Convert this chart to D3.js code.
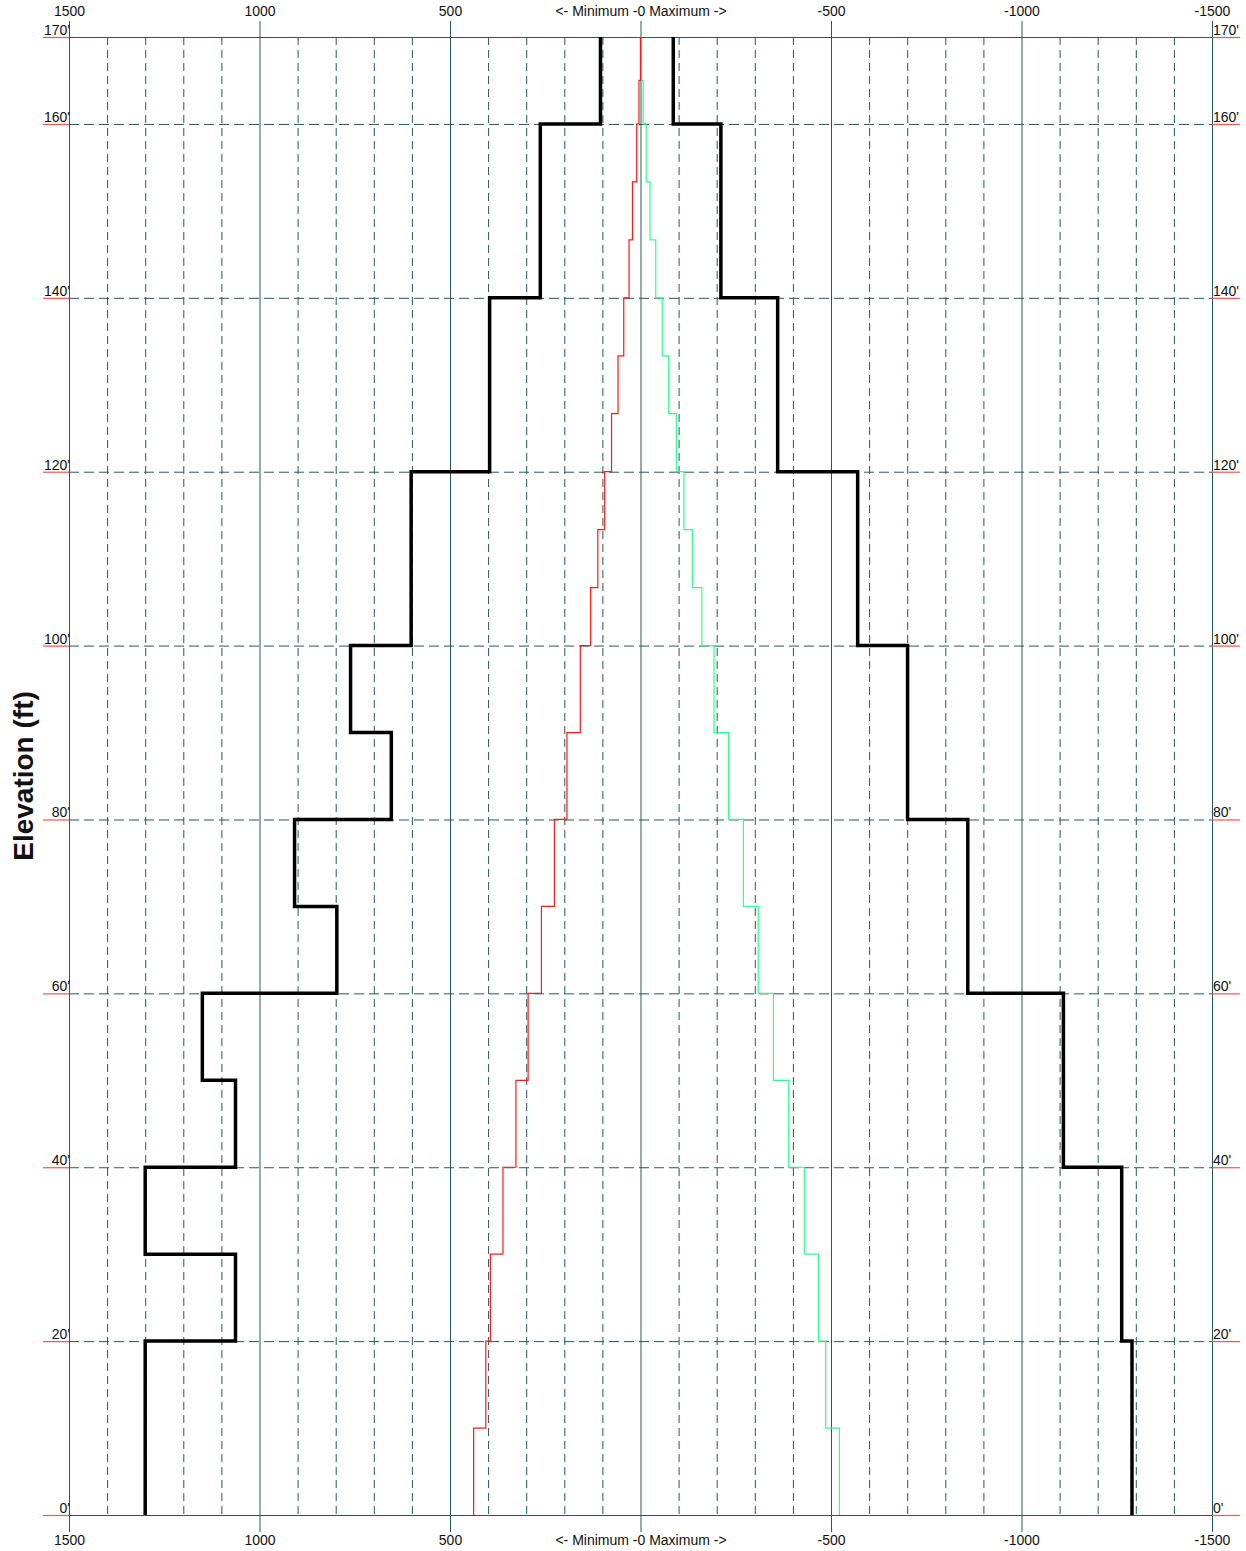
<!DOCTYPE html>
<html>
<head>
	<meta http-equiv="Content-Type" content="text/html;charset=utf-8"/>
	<title>Elevation envelope</title>
	<script src="https://d3js.org/d3.v7.min.js"></script>
	<style type="text/css">
		body { margin: 0; background: #fff; }
		text { font-family: Arial, "Liberation Sans", sans-serif; fill: #111; }
		.major { stroke: #285858; stroke-width: 1; }
		.minor { stroke: #285858; stroke-width: 1; stroke-dasharray: 8,5; }
		.hdash { stroke: #285858; stroke-width: 1; stroke-dasharray: 10,5; }
		.tickmark { stroke: #ff5050; stroke-width: 1.2; }
	</style>
</head>
<body>
	<svg width="1246" height="1551"></svg>

<script type="text/javascript">
// axis labels
const xLabelTicks = [1500, 1000, 500, 0, -500, -1000, -1500];
const centerLabel = "<- Minimum -0 Maximum ->";
const elevTicks = [0, 20, 40, 60, 80, 100, 120, 140, 160, 170];

// thick black envelope: boundaries (ft) and value per interval
const envElev = [0, 20, 30, 40, 50, 60, 70, 80, 90, 100, 120, 140, 160, 170];
const envMin = [1300, 1063, 1300, 1063, 1150, 797, 908, 654, 761, 602, 396, 263, 105];
const envMax = [-1290, -1263, -1263, -1110, -1110, -859, -859, -701, -701, -570, -360, -211, -86];

// thin red / green lines
const stepElev = [0, 10, 20, 30, 40, 50, 60, 70, 80, 90, 100,
	106.67, 113.33, 120, 126.67, 133.33, 140, 146.67, 153.33, 160, 165, 170];
const redMin = [438, 406, 394, 361, 327, 295, 260, 226, 193, 158,
	131, 112, 94, 76, 59, 44, 30, 21, 10, 4, 0];
const greenMax = [-522, -486, -467, -430, -389, -349, -309, -270, -231, -193,
	-161, -136, -114, -94, -74, -57, -40, -25, -15, -7, 0];

const svg = d3.select("svg");
const plotLeft = 69, plotRight = 1212, plotTop = 37, plotBottom = 1515;

const x = d3.scaleLinear().domain([1500, -1500]).range([plotLeft, plotRight]);
const y = d3.scaleLinear().domain([0, 170]).range([plotBottom, plotTop]);

// vertical grid
const grid = svg.append("g");
d3.range(-1500, 1501, 100).forEach(v => {
	const isMajor = v % 500 === 0;
	grid.append("line")
		.attr("class", isMajor ? "major" : "minor")
		.attr("x1", x(v) + 0.5).attr("x2", x(v) + 0.5)
		.attr("y1", isMajor ? 21 : plotTop).attr("y2", isMajor ? 1532 : plotBottom);
});

// horizontal grid
elevTicks.forEach(e => {
	const solid = (e === 0 || e === 170);
	grid.append("line")
		.attr("class", solid ? "major" : "hdash")
		.attr("x1", plotLeft).attr("x2", plotRight)
		.attr("y1", y(e) + 0.5).attr("y2", y(e) + 0.5);
});

// elevation labels + red tick marks both sides
const elevG = svg.append("g");
elevTicks.forEach(e => {
	elevG.append("line").attr("class", "tickmark")
		.attr("x1", 43).attr("x2", plotLeft).attr("y1", y(e) + 0.5).attr("y2", y(e) + 0.5);
	elevG.append("line").attr("class", "tickmark")
		.attr("x1", plotRight).attr("x2", 1240).attr("y1", y(e) + 0.5).attr("y2", y(e) + 0.5);
	elevG.append("text").attr("x", plotLeft + 1).attr("y", y(e) - 2)
		.attr("text-anchor", "end").attr("font-size", 14).text(e + "'");
	elevG.append("text").attr("x", plotRight + 1).attr("y", y(e) - 2)
		.attr("text-anchor", "start").attr("font-size", 14).text(e + "'");
});

// top & bottom value axes
const fmt = v => v === 0 ? centerLabel : String(v);
[[16, d3.axisTop], [1545, d3.axisBottom]].forEach(([ty, axisFn]) => {
	const g = svg.append("g").attr("transform", `translate(0,${ty})`)
		.call(axisFn(x).tickValues(xLabelTicks).tickSize(0).tickPadding(0).tickFormat(fmt));
	g.select(".domain").remove();
	g.selectAll("text").attr("font-size", 14)
		.attr("font-family", "Arial, 'Liberation Sans', sans-serif")
		.attr("fill", "#111").attr("dy", "0");
});

// y title
svg.append("text")
	.attr("transform", "translate(33,776) rotate(-90)")
	.attr("text-anchor", "middle")
	.attr("font-size", 28).attr("font-weight", "bold")
	.text("Elevation (ft)");

// build step points from boundaries and values
function steps(elev, vals) {
	const pts = [];
	vals.forEach((v, i) => {
		pts.push([v, elev[i]]);
		pts.push([v, elev[i + 1]]);
	});
	return pts;
}

const line = d3.line().x(d => x(d[0])).y(d => y(d[1]));

// green first so red sits on top where they meet at 0
svg.append("path").datum(steps(stepElev, greenMax))
	.attr("d", line).attr("fill", "none").attr("stroke", "#2cff8c").attr("stroke-width", 1.2);
svg.append("path").datum(steps(stepElev, redMin))
	.attr("d", line).attr("fill", "none").attr("stroke", "#ff1a1a").attr("stroke-width", 1.2);

[envMin, envMax].forEach(vals => {
	svg.append("path").datum(steps(envElev, vals))
		.attr("d", line).attr("fill", "none").attr("stroke", "#000")
		.attr("stroke-width", 3.5).attr("stroke-linejoin", "miter");
});
</script>
</body>
</html>
